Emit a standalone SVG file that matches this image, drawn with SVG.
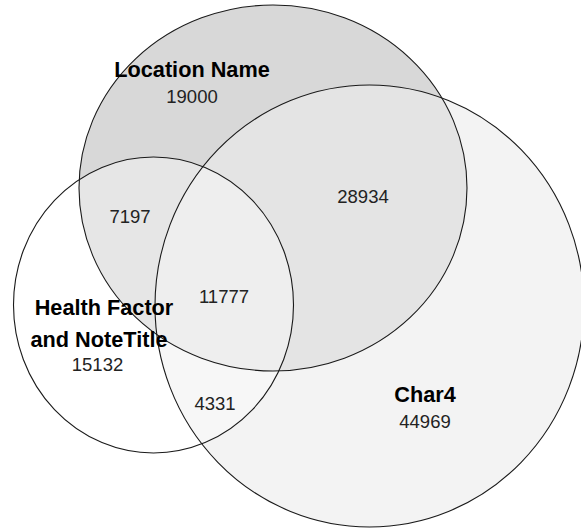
<svg xmlns="http://www.w3.org/2000/svg" width="581" height="529" viewBox="0 0 581 529">
<style>
.outline{fill:none;stroke:#1a1a1a;stroke-width:1.1}
.lbl{font-family:"Liberation Sans",Arial,sans-serif;font-weight:bold;font-size:21.7px;fill:#000;text-anchor:middle}
.num{font-family:"Liberation Sans",Arial,sans-serif;font-size:18.5px;fill:#222;text-anchor:middle}
</style>
<rect width="581" height="529" fill="#ffffff"/>
<g id="fills">
<ellipse cx="273" cy="188" rx="194" ry="183" fill="#d8d8d8"/>
<ellipse cx="369.5" cy="306" rx="214.5" ry="221" fill="#ececec" fill-opacity="0.62"/>
<ellipse cx="153.5" cy="305" rx="140" ry="148" fill="#ffffff" fill-opacity="0.36"/>
</g>
<g id="node-location-name">
<ellipse class="outline" cx="273" cy="188" rx="194" ry="183"/>
<text class="lbl" x="192" y="77">Location Name</text>
<text class="num" x="192" y="103">19000</text>
</g>
<g id="node-char4">
<ellipse class="outline" cx="369.5" cy="306" rx="214.5" ry="221"/>
<text class="lbl" x="425" y="402">Char4</text>
<text class="num" x="425" y="428">44969</text>
</g>
<g id="node-health-factor">
<ellipse class="outline" cx="153.5" cy="305" rx="140" ry="148"/>
<text class="lbl" x="104" y="315">Health Factor</text>
<text class="lbl" x="99" y="347">and NoteTitle</text>
<text class="num" x="97.5" y="371">15132</text>
</g>
<g id="overlaps">
<text class="num" x="130" y="223">7197</text>
<text class="num" x="363" y="203">28934</text>
<text class="num" x="224" y="303">11777</text>
<text class="num" x="215" y="410">4331</text>
</g>
</svg>
